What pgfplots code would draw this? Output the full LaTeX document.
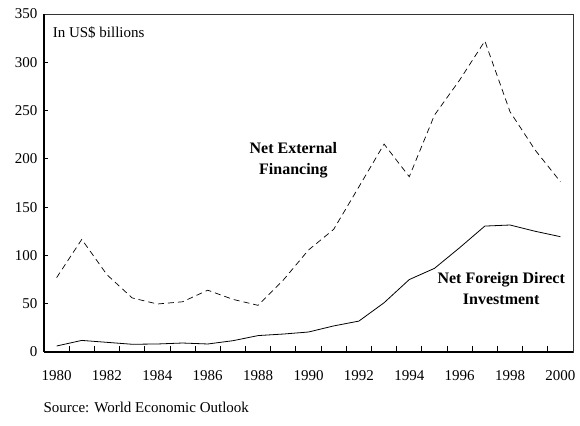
\documentclass[border=0pt]{standalone}
\usepackage{pgfplots}
\pgfplotsset{compat=1.18}
\usepackage{fontspec}
\setmainfont{Liberation Serif}

% Net external financing and net FDI, US$ billions
\pgfplotstableread{
year nef fdi
1980 77   6.2
1981 116.6 12
1982 80   10
1983 56   8
1984 49.7 8.3
1985 52   9.3
1986 64   8.3
1987 54.5 11.7
1988 48.3 17
1989 74.5 18.6
1990 105.6 20.7
1991 127  27
1992 171  32
1993 215.3 51
1994 181.5 75
1995 245.3 86.6
1996 281.6 108
1997 322  130.4
1998 248.8 131.5
1999 209  125
2000 176.3 119.4
}\flows

\begin{document}
\begin{tikzpicture}[x=1pt,y=1pt]
\path (0,0) rectangle (580,425);
\begin{axis}[
  at={(44pt,73pt)}, anchor=south west,
  width=529pt, height=338pt, scale only axis,
  xmin=1979.5, xmax=2000.5, ymin=0, ymax=350,
  xtick={1980,1982,...,2000},
  minor xtick={1980.5,1981.5,...,1999.5},
  ytick={0,50,...,350},
  xtick pos=bottom, ytick pos=left,
  tick align=inside,
  major x tick style={draw=none},
  minor tick length=6pt,
  major tick length=4pt,
  tick style={black, line width=0.8pt},
  axis line style={line width=0.8pt, black!80},
  x tick label style={/pgf/number format/1000 sep={}, yshift=-15pt},
  y tick label style={xshift=-3pt},
  /pgf/number format/assume math mode=true,
  ticklabel style={font=\fontsize{15}{17}\selectfont},
  clip=false,
]
\addplot[black, line width=0.7pt, dash pattern=on 6pt off 4pt] table[x=year,y=nef]{\flows};
\addplot[black, line width=0.8pt] table[x=year,y=fdi]{\flows};
\draw[black, line width=1.5pt] (rel axis cs:0,0) -- (rel axis cs:1,0);
\draw[black, line width=1.2pt] (rel axis cs:0,0) -- (rel axis cs:0,1);
\node[anchor=west, font=\fontsize{15}{17}\selectfont] at (rel axis cs:0.01,0.945) {In US\$ billions};
\node[align=center, font=\fontsize{16}{21}\selectfont\bfseries] at (axis cs:1989.4,199) {Net External\\Financing};
\node[align=center, font=\fontsize{16}{21}\selectfont\bfseries] at (axis cs:1997.65,66) {Net Foreign Direct\\Investment};
\end{axis}
\node[anchor=west, font=\fontsize{15}{17}\selectfont] at (40,18) {Source: World Economic Outlook};
\end{tikzpicture}
\end{document}
